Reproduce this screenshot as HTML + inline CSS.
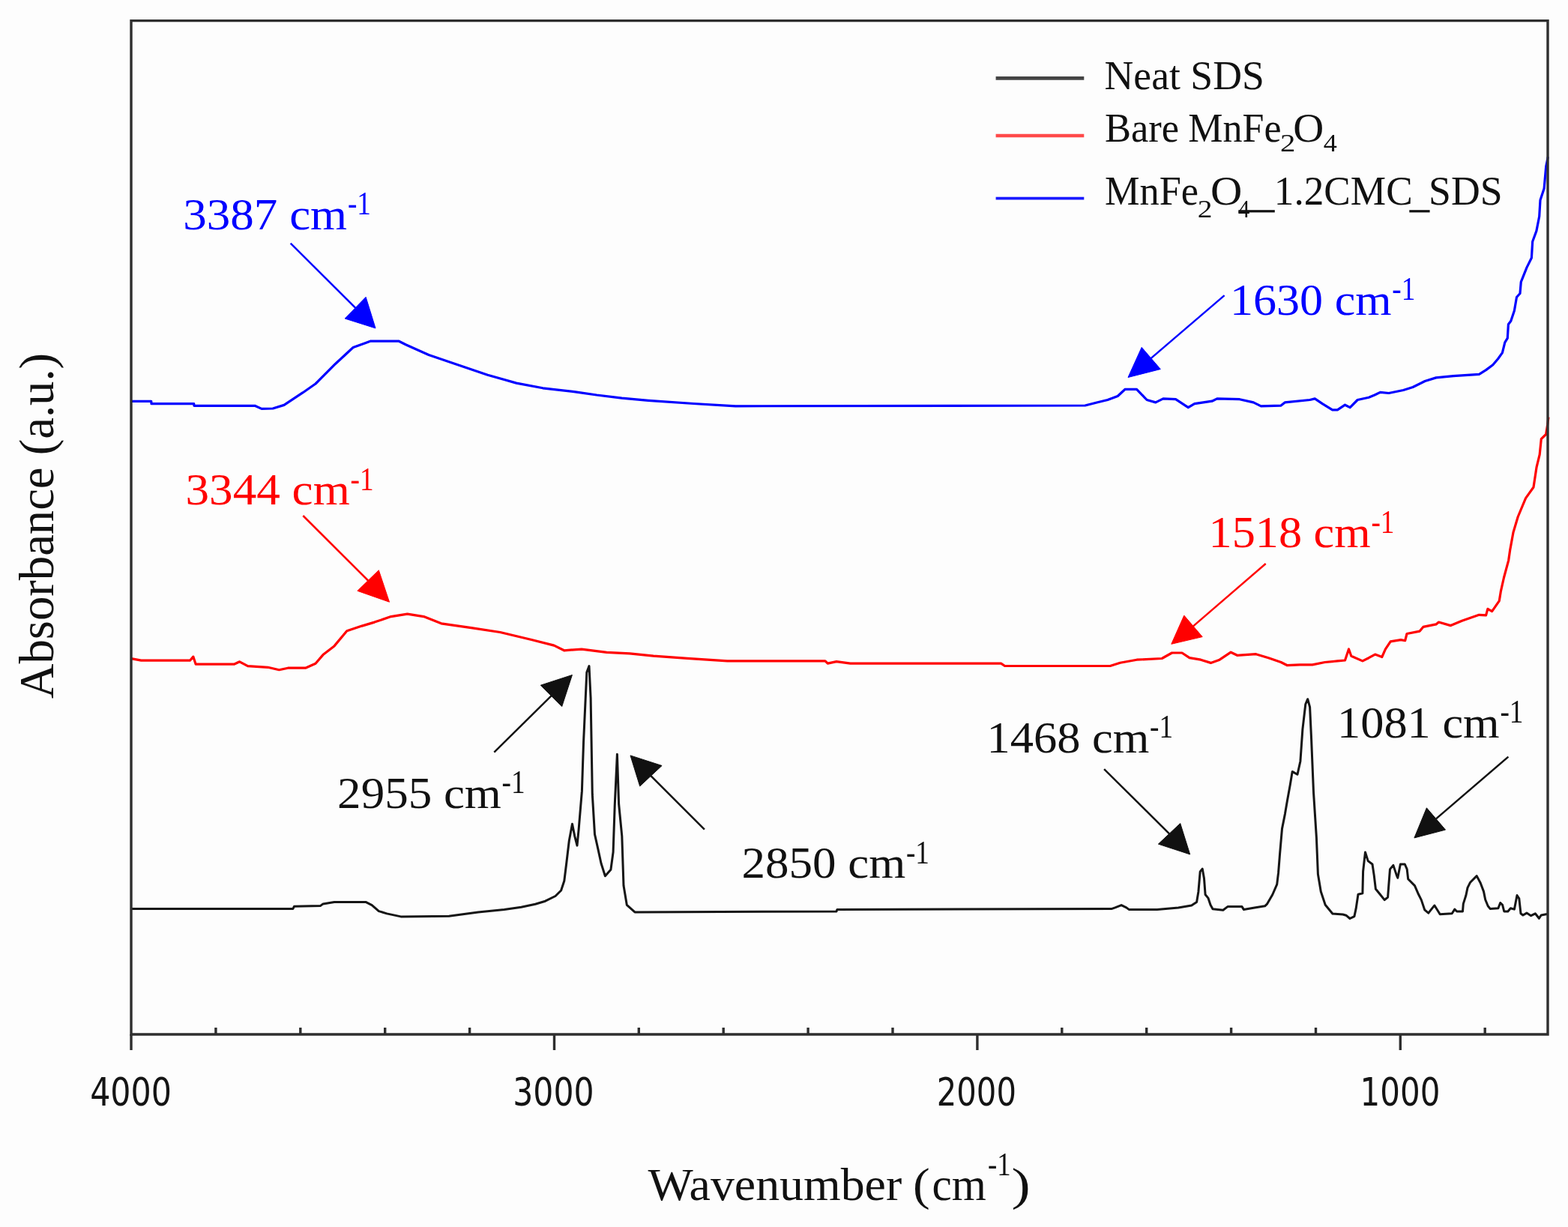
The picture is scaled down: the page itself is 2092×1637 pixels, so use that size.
<!DOCTYPE html>
<html><head><meta charset="utf-8"><title>FTIR spectra</title>
<style>html,body{margin:0;padding:0;background:#fdfdfd;overflow:hidden;}svg{display:block;}</style>
</head><body>
<svg width="2092" height="1637" viewBox="0 0 2092 1637">
<rect x="0" y="0" width="2092" height="1637" fill="#fdfdfd"/>
<polyline fill="none" stroke="#151515" stroke-width="3" stroke-linejoin="round" points="175.0,1212.6 390.8,1212.6 392.5,1209.3 427.7,1208.4 431.0,1205.9 446.0,1203.4 487.9,1203.4 496.2,1207.6 505.4,1215.6 516.1,1218.9 534.8,1222.9 599.0,1222.3 637.9,1216.9 672.7,1213.6 695.4,1210.2 714.2,1206.2 727.5,1202.2 741.0,1195.5 748.6,1188.0 752.8,1175.2 756.0,1149.5 759.3,1121.7 763.5,1099.3 766.7,1115.3 770.0,1128.1 772.1,1106.7 776.4,1055.4 778.5,991.2 782.8,897.1 786.0,888.6 788.1,931.3 790.3,1059.7 793.5,1113.2 797.8,1132.4 802.0,1151.7 807.4,1168.8 814.9,1160.2 818.1,1136.7 820.2,1074.7 823.4,1006.2 825.6,1072.5 829.8,1115.3 832.0,1181.6 836.3,1207.3 847.0,1216.9 1116.0,1215.9 1117.0,1213.4 1482.8,1212.6 1487.8,1210.9 1496.1,1207.6 1502.8,1210.9 1506.2,1213.4 1543.8,1213.4 1572.1,1211.1 1589.7,1208.1 1596.6,1203.5 1598.9,1189.7 1601.2,1162.9 1604.2,1159.1 1606.5,1172.1 1608.1,1193.5 1611.9,1198.1 1615.0,1207.3 1618.0,1212.7 1631.8,1214.2 1637.9,1209.6 1657.0,1209.6 1659.3,1213.4 1673.8,1211.1 1687.6,1208.8 1690.7,1205.8 1697.8,1193.5 1703.7,1179.9 1705.6,1164.2 1707.6,1138.8 1710.5,1105.6 1714.4,1086.1 1717.4,1068.5 1721.3,1047.0 1724.2,1029.4 1731.0,1033.3 1734.9,1015.7 1737.9,972.8 1741.8,939.5 1744.7,932.7 1747.6,943.4 1749.6,986.4 1752.5,1056.8 1756.4,1117.3 1758.4,1166.2 1762.3,1189.6 1768.2,1207.2 1777.9,1219.0 1791.6,1220.0 1795.9,1221.2 1801.0,1225.5 1806.9,1222.6 1809.1,1212.4 1812.0,1193.3 1817.9,1191.8 1818.6,1162.5 1821.5,1136.9 1825.2,1148.6 1831.0,1153.0 1833.2,1167.6 1835.4,1186.0 1841.3,1193.3 1847.2,1200.6 1851.6,1197.0 1853.0,1178.6 1854.5,1159.6 1858.9,1154.4 1863.3,1167.6 1864.8,1171.3 1868.4,1153.0 1874.3,1153.0 1877.2,1159.6 1878.7,1172.8 1887.5,1181.6 1892.6,1193.3 1896.3,1200.6 1900.7,1213.8 1905.8,1218.2 1910.9,1211.6 1913.9,1208.0 1917.5,1213.8 1921.2,1219.7 1937.2,1218.8 1940.8,1213.1 1943.7,1216.0 1951.5,1216.0 1952.3,1205.9 1955.9,1194.5 1958.0,1184.4 1961.6,1177.2 1970.2,1168.6 1975.2,1178.0 1979.5,1189.4 1981.7,1200.2 1985.2,1208.8 1988.1,1212.4 1998.9,1211.7 2001.7,1204.5 2004.6,1207.4 2006.8,1216.0 2011.8,1216.0 2015.4,1211.7 2020.4,1213.1 2024.0,1194.5 2026.8,1198.8 2029.0,1218.8 2031.9,1221.0 2036.9,1218.1 2042.6,1221.7 2048.3,1218.8 2053.4,1225.3 2056.2,1221.0 2064.1,1219.5"/>
<polyline fill="none" stroke="#ff0000" stroke-width="3.2" stroke-linejoin="round" points="175.0,878.6 188.4,881.1 253.7,881.1 257.8,876.1 261.2,886.2 312.2,886.2 319.7,882.8 330.6,888.7 357.4,890.3 372.4,893.7 384.2,891.2 407.6,891.2 421.0,885.3 431.0,873.6 446.0,861.9 462.8,841.8 482.9,835.1 499.6,830.1 521.7,822.6 543.5,819.2 565.3,822.6 588.7,831.8 628.8,837.6 667.3,843.5 709.1,853.5 739.2,861.1 752.6,867.8 776.0,866.1 809.5,870.3 840.0,871.8 871.8,875.1 917.0,878.4 970.5,881.8 1101.0,881.8 1104.3,885.1 1116.0,882.6 1134.5,885.1 1335.6,885.2 1340.6,888.5 1481.2,888.5 1494.5,884.3 1516.7,880.2 1550.2,878.5 1563.6,871.0 1577.0,871.0 1587.0,877.7 1602.0,880.2 1615.4,884.4 1627.2,880.2 1642.2,870.2 1650.6,874.3 1675.7,872.7 1692.4,877.7 1709.1,883.5 1717.5,887.7 1734.2,886.9 1751.0,886.9 1767.7,883.5 1784.4,881.9 1794.5,881.0 1799.5,866.0 1802.8,875.2 1817.9,881.9 1826.2,877.7 1834.6,873.1 1843.8,876.5 1848.4,866.2 1855.2,855.9 1869.0,853.6 1874.7,854.7 1877.0,845.5 1894.2,842.1 1898.8,836.4 1916.0,832.9 1919.5,830.0 1935.5,834.6 1950.5,828.3 1973.4,820.3 1982.6,820.9 1984.9,812.3 1990.6,815.7 2000.3,801.6 2002.3,789.2 2006.5,770.5 2012.7,747.6 2014.8,733.1 2019.0,710.3 2025.2,689.5 2035.6,664.6 2046.0,650.0 2050.1,623.1 2054.2,606.4 2056.3,585.7 2062.6,579.5 2064.6,567.0 2066.0,556.6"/>
<polyline fill="none" stroke="#0000ff" stroke-width="3.2" stroke-linejoin="round" points="175.0,535.4 201.8,535.4 202.0,538.7 258.7,538.7 259.0,541.3 340.0,541.3 349.0,545.4 364.0,545.0 379.0,540.4 404.2,523.7 421.0,512.0 447.7,485.2 471.2,463.5 487.9,457.6 494.6,455.1 531.8,455.0 541.8,460.0 572.0,473.5 613.8,487.7 650.6,500.2 689.0,511.1 724.2,517.8 767.7,522.8 796.1,527.0 829.6,531.2 865.0,534.3 925.4,538.5 981.4,541.8 1447.7,541.0 1464.4,536.8 1477.8,533.5 1491.2,528.5 1501.2,519.3 1516.5,519.3 1530.1,533.5 1541.8,536.9 1551.9,531.9 1568.6,532.7 1585.3,543.6 1593.7,538.6 1617.1,535.2 1623.8,531.9 1653.9,532.7 1672.3,536.9 1682.4,541.9 1709.1,541.1 1714.2,536.9 1747.6,533.5 1754.3,531.9 1764.3,538.6 1777.7,546.9 1784.4,546.9 1794.5,540.2 1801.2,543.6 1811.2,533.5 1826.2,530.2 1834.0,527.0 1841.5,523.4 1852.9,524.5 1872.4,520.5 1885.0,516.5 1901.1,508.5 1916.0,503.9 1939.0,501.6 1973.4,499.3 1982.6,493.6 1991.8,486.7 1998.6,478.7 2004.4,470.6 2007.8,456.9 2011.3,451.1 2012.4,432.8 2015.8,428.2 2020.4,414.4 2023.5,396.5 2028.0,391.5 2029.3,376.1 2037.0,356.9 2043.4,344.0 2044.7,322.2 2049.9,308.1 2053.7,288.8 2055.0,267.0 2060.1,251.6 2062.7,222.1 2065.3,209.3"/>
<g stroke="#2e2e2e" stroke-width="3.4" fill="none" stroke-linecap="butt">
<path d="M175,27.6 H2065 V1380 H175 Z"/>
<line x1="175.0" y1="1380" x2="175.0" y2="1401"/>
<line x1="739.5" y1="1380" x2="739.5" y2="1401"/>
<line x1="1303.9" y1="1380" x2="1303.9" y2="1401"/>
<line x1="1868.3" y1="1380" x2="1868.3" y2="1401"/>
<line x1="287.9" y1="1380" x2="287.9" y2="1371"/>
<line x1="400.8" y1="1380" x2="400.8" y2="1371"/>
<line x1="513.7" y1="1380" x2="513.7" y2="1371"/>
<line x1="626.6" y1="1380" x2="626.6" y2="1371"/>
<line x1="852.3" y1="1380" x2="852.3" y2="1371"/>
<line x1="965.2" y1="1380" x2="965.2" y2="1371"/>
<line x1="1078.1" y1="1380" x2="1078.1" y2="1371"/>
<line x1="1191.0" y1="1380" x2="1191.0" y2="1371"/>
<line x1="1416.8" y1="1380" x2="1416.8" y2="1371"/>
<line x1="1529.7" y1="1380" x2="1529.7" y2="1371"/>
<line x1="1642.6" y1="1380" x2="1642.6" y2="1371"/>
<line x1="1755.5" y1="1380" x2="1755.5" y2="1371"/>
<line x1="1981.2" y1="1380" x2="1981.2" y2="1371"/>
</g>
<text x="120.15" y="1475.20" font-family="'DejaVu Sans',Tahoma,Verdana,sans-serif" font-size="51.5" fill="#141414" textLength="108.92" lengthAdjust="spacingAndGlyphs">4000</text>
<text x="684.27" y="1475.20" font-family="'DejaVu Sans',Tahoma,Verdana,sans-serif" font-size="51.5" fill="#141414" textLength="108.28" lengthAdjust="spacingAndGlyphs">3000</text>
<text x="1249.71" y="1475.20" font-family="'DejaVu Sans',Tahoma,Verdana,sans-serif" font-size="51.5" fill="#141414" textLength="106.28" lengthAdjust="spacingAndGlyphs">2000</text>
<text x="1814.58" y="1475.20" font-family="'DejaVu Sans',Tahoma,Verdana,sans-serif" font-size="51.5" fill="#141414" textLength="106.93" lengthAdjust="spacingAndGlyphs">1000</text>
<text x="864.40" y="1601.40" font-family="'Liberation Serif','Times New Roman',serif" font-size="62" fill="#111" textLength="338.82" lengthAdjust="spacingAndGlyphs">Wavenumber</text>
<text x="1217.99" y="1601.40" font-family="'Liberation Serif','Times New Roman',serif" font-size="62" fill="#111" textLength="22.76" lengthAdjust="spacingAndGlyphs">(</text>
<text x="1243.55" y="1601.40" font-family="'Liberation Serif','Times New Roman',serif" font-size="62" fill="#111" textLength="72.38" lengthAdjust="spacingAndGlyphs">cm</text>
<text x="1318.00" y="1568.30" font-family="'Liberation Serif','Times New Roman',serif" font-size="45" fill="#111" textLength="30.67" lengthAdjust="spacingAndGlyphs">-1</text>
<text x="1349.48" y="1601.40" font-family="'Liberation Serif','Times New Roman',serif" font-size="62" fill="#111" textLength="25.17" lengthAdjust="spacingAndGlyphs">)</text>
<text transform="translate(71.3,931.60) rotate(-90)" x="-0.65" y="0" font-family="'Liberation Serif','Times New Roman',serif" font-size="65" fill="#111" textLength="461.37" lengthAdjust="spacingAndGlyphs">Absorbance (a.u.)</text>
<g stroke-width="3.4">
<line x1="1328.6" y1="104.4" x2="1446.3" y2="104.4" stroke="#444" stroke-width="4.6"/>
<line x1="1328.6" y1="181" x2="1446.3" y2="181" stroke="#ff4a4a" stroke-width="4.6"/>
<line x1="1328.6" y1="264.6" x2="1446.3" y2="264.6" stroke="#1a1aff" stroke-width="3.8"/>
</g>
<text x="1473.60" y="118.80" font-family="'Liberation Serif','Times New Roman',serif" font-size="55" fill="#111" textLength="213.24" lengthAdjust="spacingAndGlyphs">Neat SDS</text>
<text x="1473.93" y="189.30" font-family="'Liberation Serif','Times New Roman',serif" font-size="55" fill="#111" textLength="99.14" lengthAdjust="spacingAndGlyphs">Bare</text>
<text x="1585.34" y="189.30" font-family="'Liberation Serif','Times New Roman',serif" font-size="55" fill="#111" textLength="124.28" lengthAdjust="spacingAndGlyphs">MnFe</text>
<text x="1707.91" y="201.80" font-family="'Liberation Serif','Times New Roman',serif" font-size="33" fill="#111" textLength="20.37" lengthAdjust="spacingAndGlyphs">2</text>
<text x="1725.22" y="189.30" font-family="'Liberation Serif','Times New Roman',serif" font-size="55" fill="#111" textLength="40.96" lengthAdjust="spacingAndGlyphs">O</text>
<text x="1765.78" y="201.80" font-family="'Liberation Serif','Times New Roman',serif" font-size="33" fill="#111" textLength="18.10" lengthAdjust="spacingAndGlyphs">4</text>
<text x="1473.93" y="272.60" font-family="'Liberation Serif','Times New Roman',serif" font-size="55" fill="#111" textLength="125.10" lengthAdjust="spacingAndGlyphs">MnFe</text>
<text x="1597.66" y="289.60" font-family="'Liberation Serif','Times New Roman',serif" font-size="33" fill="#111" textLength="19.75" lengthAdjust="spacingAndGlyphs">2</text>
<text x="1615.04" y="272.60" font-family="'Liberation Serif','Times New Roman',serif" font-size="55" fill="#111" textLength="42.31" lengthAdjust="spacingAndGlyphs">O</text>
<text x="1651.67" y="289.60" font-family="'Liberation Serif','Times New Roman',serif" font-size="33" fill="#111" textLength="15.62" lengthAdjust="spacingAndGlyphs">4</text>
<rect x="1652.3" y="280.2" width="48.5" height="3.2" fill="#111"/>
<text x="1699.82" y="272.60" font-family="'Liberation Serif','Times New Roman',serif" font-size="55" fill="#111" textLength="184.82" lengthAdjust="spacingAndGlyphs">1.2CMC</text>
<rect x="1880.3" y="280.2" width="27.3" height="3.2" fill="#111"/>
<text x="1906.06" y="272.60" font-family="'Liberation Serif','Times New Roman',serif" font-size="55" fill="#111" textLength="98.50" lengthAdjust="spacingAndGlyphs">SDS</text>
<text x="244.27" y="305.70" font-family="'Liberation Serif','Times New Roman',serif" font-size="59" fill="#0000ff" textLength="218.92" lengthAdjust="spacingAndGlyphs">3387 cm</text>
<text x="463.89" y="286.00" font-family="'Liberation Serif','Times New Roman',serif" font-size="45" fill="#0000ff" textLength="31.01" lengthAdjust="spacingAndGlyphs">-1</text>
<text x="1640.93" y="419.60" font-family="'Liberation Serif','Times New Roman',serif" font-size="59" fill="#0000ff" textLength="215.64" lengthAdjust="spacingAndGlyphs">1630 cm</text>
<text x="1857.29" y="399.90" font-family="'Liberation Serif','Times New Roman',serif" font-size="45" fill="#0000ff" textLength="31.01" lengthAdjust="spacingAndGlyphs">-1</text>
<text x="247.47" y="673.30" font-family="'Liberation Serif','Times New Roman',serif" font-size="59" fill="#ff0000" textLength="219.32" lengthAdjust="spacingAndGlyphs">3344 cm</text>
<text x="467.49" y="653.60" font-family="'Liberation Serif','Times New Roman',serif" font-size="45" fill="#ff0000" textLength="31.01" lengthAdjust="spacingAndGlyphs">-1</text>
<text x="1612.52" y="730.40" font-family="'Liberation Serif','Times New Roman',serif" font-size="59" fill="#ff0000" textLength="216.16" lengthAdjust="spacingAndGlyphs">1518 cm</text>
<text x="1829.39" y="710.70" font-family="'Liberation Serif','Times New Roman',serif" font-size="45" fill="#ff0000" textLength="31.01" lengthAdjust="spacingAndGlyphs">-1</text>
<text x="450.13" y="1077.60" font-family="'Liberation Serif','Times New Roman',serif" font-size="59" fill="#111111" textLength="218.76" lengthAdjust="spacingAndGlyphs">2955 cm</text>
<text x="669.59" y="1057.90" font-family="'Liberation Serif','Times New Roman',serif" font-size="45" fill="#111111" textLength="31.01" lengthAdjust="spacingAndGlyphs">-1</text>
<text x="989.43" y="1171.30" font-family="'Liberation Serif','Times New Roman',serif" font-size="59" fill="#111111" textLength="218.76" lengthAdjust="spacingAndGlyphs">2850 cm</text>
<text x="1208.89" y="1151.60" font-family="'Liberation Serif','Times New Roman',serif" font-size="45" fill="#111111" textLength="31.01" lengthAdjust="spacingAndGlyphs">-1</text>
<text x="1316.40" y="1003.60" font-family="'Liberation Serif','Times New Roman',serif" font-size="59" fill="#111111" textLength="216.98" lengthAdjust="spacingAndGlyphs">1468 cm</text>
<text x="1534.09" y="983.90" font-family="'Liberation Serif','Times New Roman',serif" font-size="45" fill="#111111" textLength="31.01" lengthAdjust="spacingAndGlyphs">-1</text>
<text x="1784.01" y="983.90" font-family="'Liberation Serif','Times New Roman',serif" font-size="59" fill="#111111" textLength="216.67" lengthAdjust="spacingAndGlyphs">1081 cm</text>
<text x="2001.39" y="964.20" font-family="'Liberation Serif','Times New Roman',serif" font-size="45" fill="#111111" textLength="31.01" lengthAdjust="spacingAndGlyphs">-1</text>
<line x1="387.7" y1="324.6" x2="474.1" y2="410.6" stroke="#0000ff" stroke-width="2.5"/>
<polygon points="501,437.9 460.2,425 488.1,396.3" fill="#0000ff" stroke="#0000ff" stroke-width="1" stroke-linejoin="round"/>
<line x1="1633.6" y1="394.1" x2="1535.8" y2="477.9" stroke="#0000ff" stroke-width="2.5"/>
<polygon points="1505,503.5 1523.2,463.4 1548.3,492.5" fill="#0000ff" stroke="#0000ff" stroke-width="1" stroke-linejoin="round"/>
<line x1="404.3" y1="688" x2="491.1" y2="774.5" stroke="#ff0000" stroke-width="2.5"/>
<polygon points="519.5,803.2 476.9,788.3 505.3,760.7" fill="#ff0000" stroke="#ff0000" stroke-width="1" stroke-linejoin="round"/>
<line x1="1688.7" y1="752" x2="1592.0" y2="835.4" stroke="#ff0000" stroke-width="2.5"/>
<polygon points="1562.8,859.3 1579.8,821.1 1604.2,849.6" fill="#ff0000" stroke="#ff0000" stroke-width="1" stroke-linejoin="round"/>
<line x1="659.3" y1="1003.6" x2="735.5" y2="928.4" stroke="#111111" stroke-width="2.5"/>
<polygon points="763.4,900.5 721.3,914.2 749.7,942.6" fill="#111111" stroke="#111111" stroke-width="1" stroke-linejoin="round"/>
<line x1="939.9" y1="1106.7" x2="868.4" y2="1035.2" stroke="#111111" stroke-width="2.5"/>
<polygon points="841,1007.9 853.7,1048.9 883.1,1021.5" fill="#111111" stroke="#111111" stroke-width="1" stroke-linejoin="round"/>
<line x1="1473.1" y1="1026.1" x2="1560.1" y2="1112.3" stroke="#111111" stroke-width="2.5"/>
<polygon points="1587.7,1139.9 1545.4,1126.1 1574.7,1098.5" fill="#111111" stroke="#111111" stroke-width="1" stroke-linejoin="round"/>
<line x1="2012.4" y1="1009.6" x2="1916.0" y2="1092.4" stroke="#111111" stroke-width="2.5"/>
<polygon points="1886.9,1117.9 1903.4,1077.8 1928.5,1107.1" fill="#111111" stroke="#111111" stroke-width="1" stroke-linejoin="round"/>
</svg>
</body></html>
